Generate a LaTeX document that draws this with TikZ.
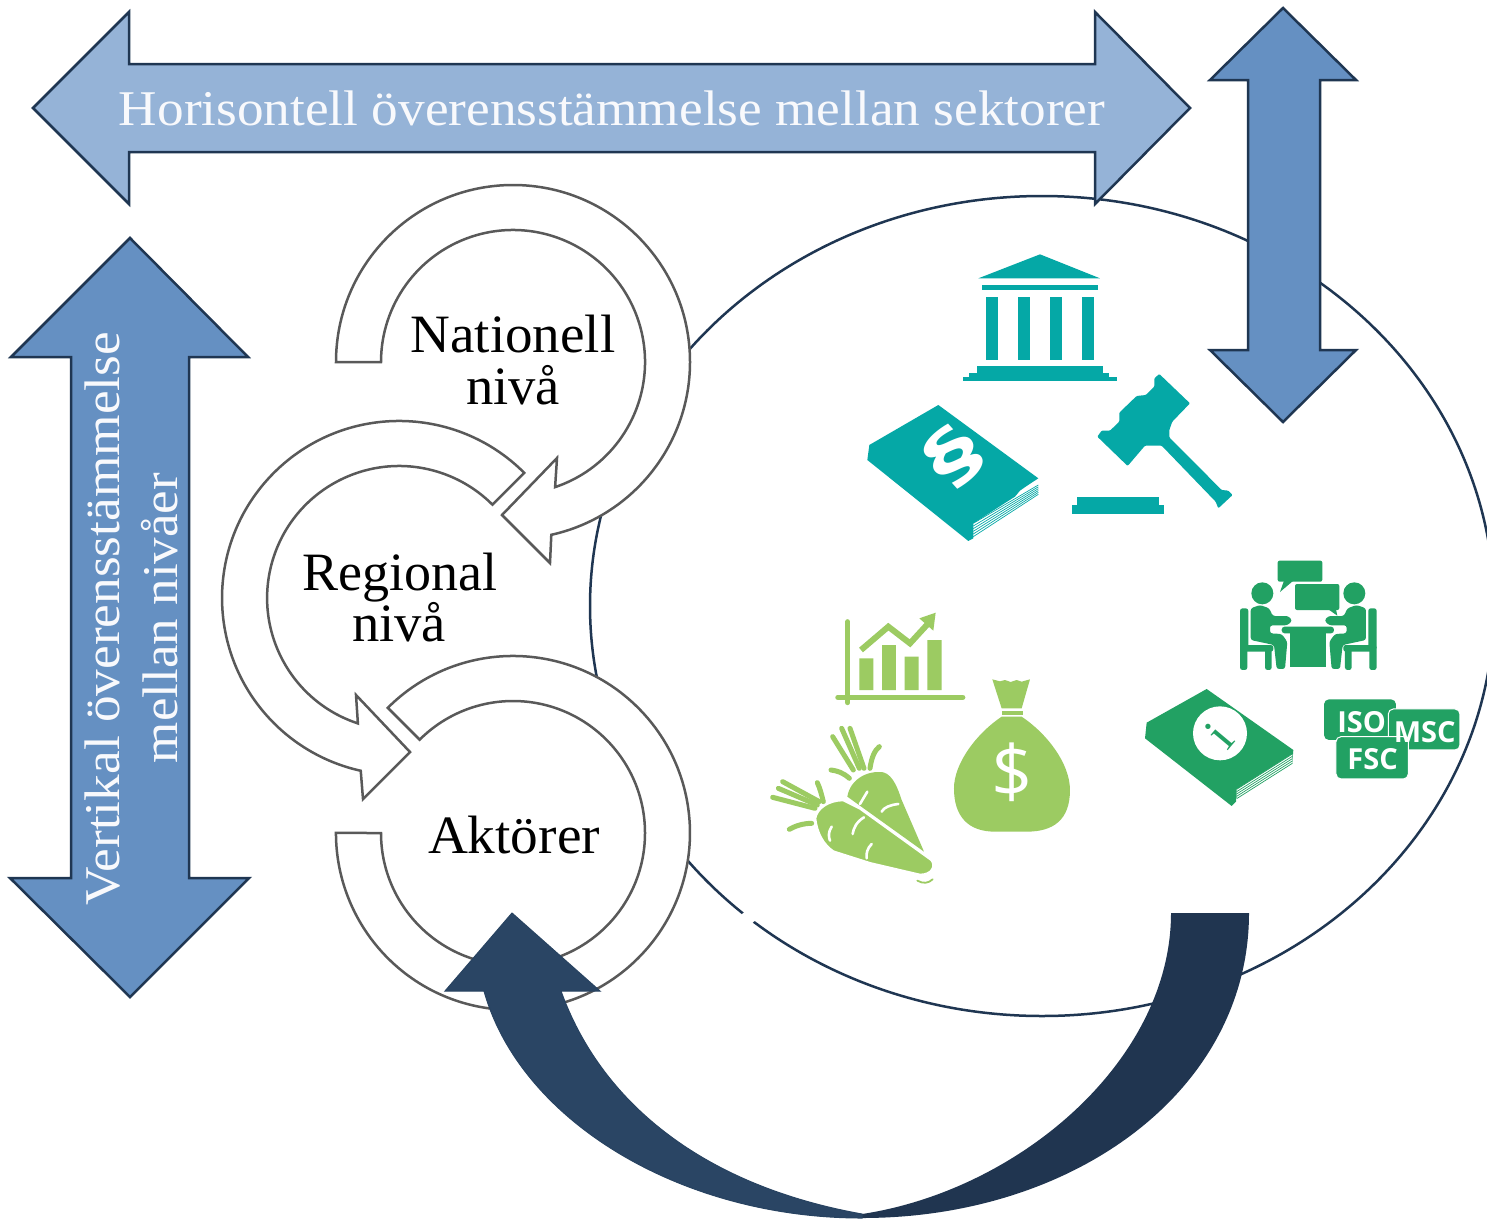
\documentclass[tikz,border=0pt]{standalone}
\usepackage{fontspec}
\usepackage{graphicx}
\setmainfont{Liberation Serif}
\newfontfamily\iconfont{Open Sans}
\newfontfamily\glyphfont{DejaVu Sans}
\definecolor{navy}{HTML}{1F3652}
\definecolor{lightblue}{HTML}{95B3D7}
\definecolor{midblue}{HTML}{6590C2}
\definecolor{ringline}{HTML}{595959}
\definecolor{teal}{HTML}{05A8A6}
\definecolor{lime}{HTML}{9CCB62}
\definecolor{leaf}{HTML}{22A163}
\definecolor{bigleft}{HTML}{2A4564}
\definecolor{bigright}{HTML}{203550}
\definecolor{arrowtext}{HTML}{F8F9FC}
\newcommand{\fsz}[1]{\fontsize{#1pt}{#1pt}\selectfont}
\newcommand{\fitw}[2]{\resizebox{#1pt}{\height}{#2}}
\tikzset{
  blockarrow/.style={draw=navy,line width=2.5pt,line join=miter},
  ring/.style={draw=ringline,fill=white,line width=2.5pt,line join=miter},
  label/.style={anchor=base,inner sep=0pt,outer sep=0pt,text=black},
  zoomA/.style={shift={(840,240)},x=0.3333pt,y=-0.3333pt},
  zoomB/.style={shift={(760,600)},x=0.3333pt,y=-0.3333pt},
  zoomC/.style={shift={(1130,550)},x=0.3333pt,y=-0.3333pt},
  stalk/.style={lime,line width=5pt,line cap=round},
  cut/.style={white,line width=2.6pt,line cap=round},
}
\begin{document}
\begin{tikzpicture}[x=1pt,y=-1pt]
\useasboundingbox (0,0) rectangle (1487,1218);
\fill[white] (0,0) rectangle (1487,1218);
% ellipse
\draw[navy,line width=2.5pt] (1042,606) ellipse [x radius=452pt,y radius=410pt];
\fill[white] (741,915) -- (749,908) -- (758,918) -- (750,925) -- cycle;
\fill[white] (513,833) circle[radius=134pt];
% rings
\draw[ring] (336,362) arc[start angle=180,end angle=-77.5,radius=177pt]
  -- (550,563) -- (502,515) -- (557,458) -- (555.1,487.1)
  arc[start angle=-71.4,end angle=180,radius=132pt] -- cycle;
\draw[ring] (524.2,472.8) arc[start angle=45,end angle=257.5,radius=177pt]
  -- (363,799) -- (410,752) -- (356,695) -- (357.9,723.4)
  arc[start angle=251.8,end angle=45,radius=132pt] -- cycle;
\draw[ring] (387.8,707.8) arc[start angle=135,end angle=-180,radius=177pt]
  -- (381,833) arc[start angle=-180,end angle=135,radius=132pt] -- cycle;
% block arrows
\draw[blockarrow,fill=lightblue] (33,108) -- (129,12) -- (129,64) -- (1095,64) -- (1095,12)
  -- (1190,108) -- (1095,204) -- (1095,152) -- (129,152) -- (129,204) -- cycle;
\draw[blockarrow,fill=midblue] (1283,8) -- (1356,80) -- (1320,80) -- (1320,350) -- (1356,350)
  -- (1283,422) -- (1210,350) -- (1248,350) -- (1248,80) -- (1210,80) -- cycle;
\draw[blockarrow,fill=midblue] (130,238) -- (248,357) -- (189,357) -- (189,878) -- (249,878)
  -- (130,997) -- (10,878) -- (71,878) -- (71,357) -- (11,357) -- cycle;
% big curved arrow
\fill[bigright] (1171,913) -- (1249,913) .. controls (1249,1090) and (1075,1218) .. (862,1218)
  -- (862,1214) .. controls (1020,1190) and (1171,1060) .. (1171,913) -- cycle;
\draw[bigleft!85!navy,fill=bigleft,line width=1pt] (862,1218) .. controls (680,1218) and (520,1120) .. (484,991)
  -- (445,991) -- (512,913) -- (600,991) -- (561,991)
  .. controls (600,1100) and (700,1185) .. (862,1214) -- cycle;
% texts
\node[label,text=arrowtext] (horis) at (612,125.5) {\fsz{50}\fitw{986}{Horisontell överensstämmelse mellan sektorer}};
\node[label,text=arrowtext,rotate=90] (vert) at (119,618.5) {\fsz{50}\fitw{573}{Vertikal överensstämmelse}};
\node[label,text=arrowtext,rotate=90] (mell) at (177,618) {\fsz{50}\fitw{290}{mellan nivåer}};
\node[label] (nat) at (513,352) {\fsz{54}\fitw{205}{Nationell}};
\node[label] (nat2) at (513,404) {\fsz{54}\fitw{94}{nivå}};
\node[label] (reg) at (399.5,590) {\fsz{54}\fitw{195}{Regional}};
\node[label] (reg2) at (399,641) {\fsz{54}\fitw{94}{nivå}};
\node[label] (akt) at (514,853) {\fsz{54}\fitw{172}{Aktörer}};
% temple, book, gavel
\begin{scope}[zoomA]
 \fill[teal] (415,115) -- (600,43) -- (780,115) -- cycle;
 \fill[teal] (425,135) rectangle (773,150);
 \foreach \c in {437,533,629,726} \fill[teal] (\c,170) rectangle (\c+36,360);
 \fill[teal] (410,378) rectangle (790,400);
 \fill[teal] (388,400) rectangle (808,412);
 \fill[teal] (368,412) rectangle (830,422);
 \fill[teal,rounded corners=1pt] (958,402) -- (1050,490) -- (997,545) -- (988,570) -- (988,592) -- (1145,750) -- (1165,752)
   -- (1178,765) -- (1135,805) -- (1127,785) -- (965,617) -- (915,617) -- (863,678) -- (772,590)
   -- (785,572) -- (810,572) -- (838,545) -- (838,518) -- (890,468) -- (918,465) -- (943,440) -- (943,415) -- cycle;
 \fill[teal] (710,770) rectangle (958,795);
 \fill[teal] (695,795) rectangle (972,822);
 \fill[teal] (295,495) -- (595,715) -- (560,738) -- (540,752) -- (525,770) -- (400,850) -- (400,895)
   -- (385,903) -- (82,660) -- (88,615) -- cycle;
 \foreach \k in {0,8,16,24,32,40} \draw[teal,line width=0.7pt] (400,850+\k) -- (595,735+\k*.7);
 \node[text=white,rotate=42,inner sep=0pt] (para) at (340,650) {\glyphfont\bfseries\fsz{70}\scalebox{1.4}[1]{§}};
\end{scope}
% chart, sack, carrots
\begin{scope}[zoomB]
 \draw[lime,line width=5pt,line cap=round] (263,65) -- (263,308);
 \draw[lime,line width=5.5pt,line cap=round] (234,292) -- (608,292);
 \fill[lime] (298,175) rectangle (340,270) (366,135) rectangle (408,270)
             (434,170) rectangle (476,270) (502,120) rectangle (545,270);
 \draw[lime,line width=6pt] (303,150) -- (385,80) -- (450,130) -- (505,70);
 \fill[lime] (478,55) -- (527,38) -- (520,92) -- cycle;
 \fill[lime] (697,238) -- (720,244) -- (735,240) -- (752,246) -- (770,240) -- (785,245) -- (810,238) -- (785,325) -- (725,325) -- cycle;
 \fill[lime] (725,333) rectangle (790,344);
 \fill[lime] (725,350) -- (785,350) .. controls (860,400) and (930,490) .. (930,570)
   .. controls (930,660) and (880,695) .. (800,695) -- (705,695)
   .. controls (625,695) and (582,650) .. (582,565) .. controls (582,490) and (650,400) .. (725,350) -- cycle;
 \node[text=white,inner sep=0pt] (dollar) at (755,518) {\iconfont\fsz{72}\$};
 % back carrot
 \fill[lime] (262,590) .. controls (270,540) and (320,510) .. (370,517) .. controls (400,525) and (415,570) .. (425,600) -- (492,755) -- cycle;
 \draw[stalk] (280,510) -- (218,410);
 \draw[stalk] (298,505) -- (245,385);
 \draw[stalk] (312,505) -- (270,385);
 \draw[stalk] (330,505) .. controls (335,470) and (345,450) .. (358,440);
 \draw[stalk] (268,535) .. controls (250,518) and (230,512) .. (213,510);
 \draw[cut] (322,575) -- (300,612);
 \draw[cut] (415,612) .. controls (390,615) and (372,622) .. (365,635);
 % front carrot
 \draw[white,line width=2.6pt,fill=lime,line join=round] (165,655) .. controls (170,625) and (205,600) .. (250,600) -- (300,625) -- (515,780) .. controls (530,800) and (515,825) .. (480,825) -- (330,790) -- (220,755) .. controls (190,735) and (170,700) .. (165,655) -- cycle;
 \draw[stalk] (165,625) -- (38,592);
 \draw[stalk] (172,615) -- (55,565);
 \draw[stalk] (178,605) -- (68,545);
 \draw[stalk] (190,605) .. controls (185,585) and (180,565) .. (172,548);
 \draw[stalk] (155,670) .. controls (130,670) and (105,678) .. (88,688);
 \draw[cut] (215,680) .. controls (205,695) and (205,710) .. (210,722);
 \draw[cut] (312,652) .. controls (290,665) and (280,685) .. (278,702);
 \draw[cut] (335,732) .. controls (322,745) and (318,760) .. (320,775);
 \draw[lime,line width=1.8pt,line cap=round] (472,842) .. controls (490,852) and (505,850) .. (518,838);
\end{scope}
% meeting, info book, labels
\begin{scope}[zoomC]
 \fill[leaf,rounded corners=2pt] (443,32) rectangle (577,95);
 \fill[leaf] (462,92) -- (450,126) -- (490,92) -- cycle;
 \fill[leaf,rounded corners=2pt] (495,102) rectangle (628,180);
 \fill[leaf] (595,178) -- (622,197) -- (618,178) -- cycle;
 \foreach \m/\o in {1/0,-1/1070}{
  \begin{scope}[xshift=\o*0.3333pt,x=\m*0.3333pt]
   \fill[leaf] (397,130) circle[radius=11pt];
   \fill[leaf,rounded corners=2.5pt] (330,175) rectangle (355,300);
   \fill[leaf,rounded corners=2.5pt] (330,285) rectangle (430,305);
   \fill[leaf,rounded corners=2.5pt] (330,295) rectangle (352,360);
   \fill[leaf,rounded corners=2.5pt] (405,295) rectangle (425,360);
   \fill[leaf,rounded corners=2.5pt] (362,270) -- (362,175) -- (390,165) -- (418,175) -- (428,198) -- (475,198) -- (487,212) -- (472,226) -- (420,226) -- (420,250) -- (455,252) -- (472,275) -- (465,357) -- (440,357) -- (432,285) -- cycle;
  \end{scope}}
 \fill[leaf,rounded corners=3pt] (455,230) rectangle (612,250);
 \fill[leaf] (480,245) rectangle (587,352);
 % info book
 \fill[leaf] (230,417) -- (490,600) -- (487,640) -- (318,745) -- (318,755) -- (305,768) -- (45,565) -- (50,518) -- cycle;
 \fill[white] (320,718) -- (487,612) -- (487,640) -- (320,748) -- cycle;
 \foreach \k in {0,7,14,21,28} \draw[leaf,line width=0.7pt] (320,718+\k) -- (487,612+\k);
 \fill[white] (270,550) circle[radius=27pt];
 \node[text=leaf,rotate=50,inner sep=0pt] (info) at (268,558) {\fsz{50}i};
 % certificates
 \fill[leaf,rounded corners=5pt] (582,448) rectangle (798,570);
 \draw[white,line width=1pt,fill=leaf,rounded corners=5pt] (775,477) rectangle (990,600);
 \draw[white,line width=1pt,fill=leaf,rounded corners=5pt] (618,560) rectangle (835,687);
 \node[text=white,inner sep=0pt] (iso) at (695,516) {\iconfont\bfseries\fsz{29}ISO};
 \node[text=white,inner sep=0pt] (msc) at (884,546) {\iconfont\bfseries\fsz{29}MSC};
 \node[text=white,inner sep=0pt] (fsc) at (728,626) {\iconfont\bfseries\fsz{29}FSC};
\end{scope}
\end{tikzpicture}
\end{document}
